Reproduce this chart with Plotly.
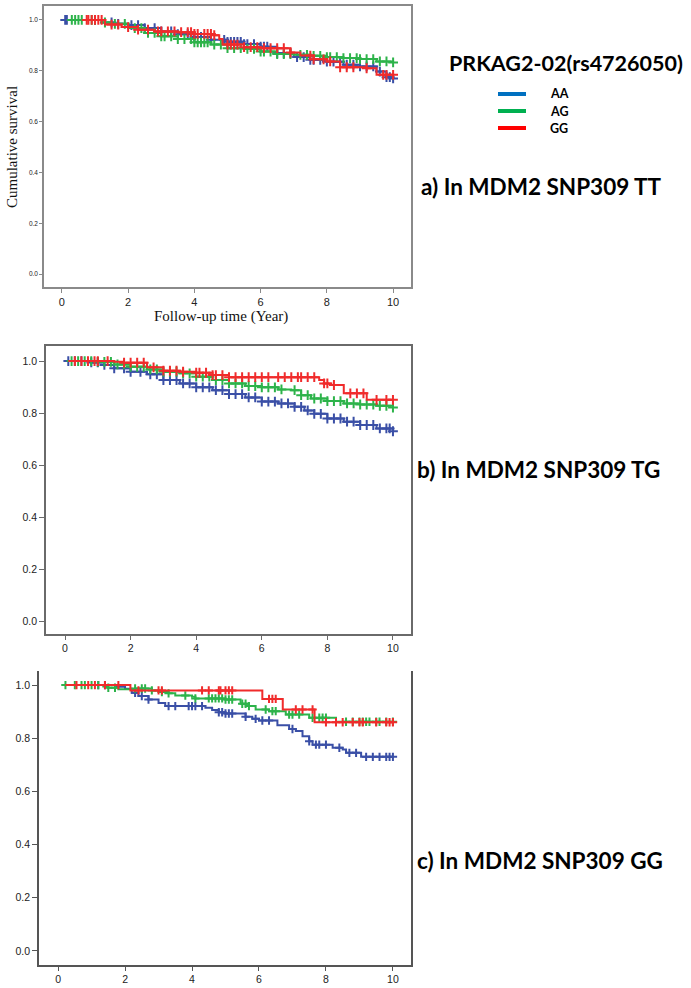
import numpy as np
import plotly.graph_objects as go

# ---------------- data ----------------
groups = ["AA", "AG", "GG"]

# Panel a) MDM2 SNP309 TT : step knots (time, survival) and censor times
a_AA_t = [0.1, 1.2, 1.6, 2.0, 2.5, 3.0, 3.5, 4.0, 4.5, 5.0, 5.5, 6.0, 6.5, 7.0, 7.5, 8.0, 8.5, 9.0, 9.5, 9.8, 10.0]
a_AA_s = [1.0, 0.99, 0.985, 0.98, 0.968, 0.955, 0.944, 0.933, 0.922, 0.914, 0.905, 0.895, 0.87, 0.854, 0.843, 0.836, 0.824, 0.817, 0.797, 0.775, 0.77]
a_AG_t = [0.3, 1.2, 1.5, 2.0, 2.5, 3.0, 3.5, 4.0, 4.5, 5.0, 5.5, 6.0, 6.5, 7.0, 7.5, 8.0, 8.5, 9.0, 9.5, 10.0]
a_AG_s = [1.0, 0.99, 0.985, 0.968, 0.949, 0.936, 0.925, 0.912, 0.903, 0.889, 0.886, 0.876, 0.866, 0.863, 0.859, 0.854, 0.85, 0.846, 0.837, 0.833]
a_GG_t = [0.72, 1.3, 1.8, 2.3, 2.8, 3.5, 4.0, 4.6, 4.75, 4.85, 5.5, 6.0, 6.9, 7.2, 7.6, 8.0, 8.4, 9.2, 9.5, 10.0]
a_GG_s = [1.0, 0.982, 0.972, 0.962, 0.955, 0.952, 0.945, 0.940, 0.925, 0.903, 0.893, 0.889, 0.872, 0.86, 0.845, 0.837, 0.814, 0.81, 0.784, 0.784]
a_AA_c = [0.1, 0.15, 1.0, 1.5, 1.7, 2.1, 2.3, 2.5, 2.8, 3.0, 3.3, 3.5, 3.8, 4.0, 4.2, 4.5, 4.9, 5.0, 5.1, 5.2, 5.3, 5.4, 5.5, 5.6, 5.8, 6.0, 6.1, 6.2, 6.5, 6.7, 6.9, 7.1, 7.3, 7.5, 7.6, 7.8, 8.0, 8.2, 8.4, 8.6, 8.8, 9.0, 9.2, 9.4, 9.6, 9.8, 9.9, 10.0]
a_AG_c = [0.3, 0.4, 0.5, 0.6, 0.9, 1.0, 1.3, 1.6, 1.9, 2.2, 2.4, 2.6, 2.8, 3.0, 3.1, 3.3, 3.5, 3.7, 3.9, 4.0, 4.1, 4.2, 4.3, 4.4, 4.6, 4.8, 5.0, 5.2, 5.4, 5.6, 5.8, 6.0, 6.1, 6.3, 6.5, 6.7, 6.9, 7.2, 7.4, 7.6, 7.8, 8.0, 8.1, 8.3, 8.5, 8.7, 8.9, 9.0, 9.2, 9.4, 9.6, 9.8, 10.0]
a_GG_c = [0.75, 0.8, 0.9, 1.0, 1.1, 1.2, 1.5, 1.7, 2.0, 2.3, 2.6, 2.9, 3.0, 3.2, 3.4, 3.6, 3.8, 3.9, 4.0, 4.1, 4.3, 4.4, 4.5, 4.6, 5.0, 5.1, 5.2, 5.3, 5.5, 5.7, 5.9, 6.1, 6.3, 6.5, 6.7, 6.9, 7.5, 7.6, 7.9, 8.1, 8.4, 8.6, 8.8, 9.2, 9.7, 9.8, 10.0]

# Panel b) MDM2 SNP309 TG
b_AA_t = [0.1, 0.8, 1.2, 1.5, 2.0, 2.5, 3.0, 3.5, 4.0, 4.5, 5.0, 5.5, 6.0, 6.5, 7.0, 7.3, 7.6, 8.0, 8.5, 9.0, 9.5, 10.0]
b_AA_s = [1.0, 0.995, 0.985, 0.972, 0.959, 0.949, 0.927, 0.914, 0.899, 0.888, 0.873, 0.86, 0.844, 0.837, 0.824, 0.81, 0.797, 0.779, 0.767, 0.754, 0.741, 0.73]
b_AG_t = [0.2, 1.0, 1.5, 2.0, 2.5, 3.0, 3.5, 4.0, 4.5, 5.0, 5.5, 6.0, 6.5, 6.9, 7.2, 7.5, 8.0, 8.5, 9.0, 9.5, 10.0]
b_AG_s = [1.0, 0.997, 0.987, 0.978, 0.968, 0.959, 0.953, 0.94, 0.927, 0.914, 0.904, 0.899, 0.891, 0.888, 0.869, 0.856, 0.846, 0.837, 0.833, 0.828, 0.821]
b_GG_t = [0.1, 1.5, 1.8, 2.5, 3.0, 3.5, 4.0, 4.5, 5.0, 7.75, 7.9, 8.1, 8.5, 9.2, 10.0]
b_GG_s = [1.0, 0.997, 0.994, 0.976, 0.963, 0.959, 0.955, 0.946, 0.938, 0.927, 0.914, 0.908, 0.876, 0.851, 0.851]
b_AA_c = [0.1, 0.3, 0.5, 0.8, 1.0, 1.2, 1.5, 1.8, 2.0, 2.3, 2.6, 2.8, 3.0, 3.2, 3.4, 3.6, 3.8, 4.0, 4.2, 4.4, 4.6, 4.8, 5.0, 5.2, 5.4, 5.6, 5.8, 6.0, 6.2, 6.4, 6.6, 6.8, 7.0, 7.2, 7.4, 7.6, 7.8, 8.0, 8.2, 8.4, 8.6, 8.8, 9.0, 9.2, 9.4, 9.6, 9.8, 9.9, 10.0]
b_AG_c = [0.2, 0.4, 0.6, 0.8, 1.0, 1.2, 1.4, 1.6, 1.8, 2.0, 2.2, 2.4, 2.6, 2.8, 3.0, 3.2, 3.4, 3.6, 3.8, 4.0, 4.2, 4.4, 4.6, 4.8, 5.0, 5.2, 5.4, 5.6, 5.8, 6.0, 6.2, 6.4, 6.6, 7.0, 7.2, 7.4, 7.6, 7.8, 8.0, 8.2, 8.4, 8.6, 8.8, 9.0, 9.2, 9.4, 9.6, 9.8, 10.0]
b_GG_c = [0.3, 0.5, 0.7, 0.9, 1.0, 1.3, 1.8, 2.0, 2.2, 2.4, 2.7, 3.0, 3.2, 3.4, 3.6, 4.0, 4.1, 4.3, 4.5, 4.6, 4.8, 5.0, 5.2, 5.4, 5.6, 5.8, 6.0, 6.2, 6.5, 6.7, 6.9, 7.1, 7.2, 7.4, 7.6, 7.9, 8.0, 8.2, 8.7, 8.9, 9.1, 9.5, 9.8, 10.0]

# Panel c) MDM2 SNP309 GG
c_AA_t = [1.2, 1.7, 2.0, 2.2, 2.4, 2.7, 3.0, 3.2, 4.4, 4.6, 4.8, 5.0, 5.6, 5.8, 6.0, 6.55, 6.9, 7.1, 7.3, 7.5, 7.6, 8.2, 8.5, 8.6, 9.05, 10.0]
c_AA_s = [1.0, 0.994, 0.986, 0.971, 0.959, 0.946, 0.933, 0.921, 0.915, 0.906, 0.898, 0.893, 0.881, 0.873, 0.867, 0.849, 0.835, 0.827, 0.808, 0.789, 0.776, 0.764, 0.758, 0.745, 0.73, 0.73]
c_AG_t = [0.22, 1.35, 1.5, 1.8, 2.3, 2.8, 3.0, 3.3, 3.5, 4.0, 4.1, 5.0, 5.45, 5.7, 5.9, 6.3, 6.8, 7.5, 8.3, 10.0]
c_AG_s = [1.0, 0.995, 0.99, 0.984, 0.987, 0.98, 0.974, 0.969, 0.961, 0.956, 0.95, 0.946, 0.93, 0.921, 0.908, 0.902, 0.889, 0.877, 0.862, 0.862]
c_GG_t = [0.22, 2.16, 6.1, 6.71, 7.66, 10.0]
c_GG_s = [1.0, 0.98, 0.948, 0.908, 0.86, 0.86]
c_AA_c = [1.2, 1.4, 2.3, 2.5, 2.7, 3.3, 3.5, 3.9, 4.0, 4.1, 4.3, 4.8, 4.9, 5.0, 5.1, 5.2, 5.6, 5.9, 6.1, 6.3, 7.0, 7.5, 7.7, 7.8, 8.0, 8.4, 8.7, 8.9, 9.2, 9.4, 9.6, 9.8, 9.9, 10.0]
c_AG_c = [0.22, 0.5, 0.7, 0.8, 1.0, 1.2, 1.5, 1.7, 2.3, 2.5, 2.6, 2.8, 3.1, 3.3, 3.8, 4.1, 4.5, 4.6, 4.7, 4.8, 4.9, 5.0, 5.1, 5.2, 5.5, 5.6, 5.7, 6.2, 6.4, 6.5, 6.9, 7.0, 7.2, 7.6, 7.8, 7.9, 8.0, 8.6, 8.8, 9.0, 9.1, 9.2, 9.3, 9.5, 9.6, 9.8, 10.0]
c_GG_c = [0.55, 0.9, 1.1, 1.4, 1.8, 2.4, 3.0, 3.1, 4.3, 4.5, 4.8, 4.85, 5.0, 5.1, 5.2, 6.3, 6.4, 6.5, 7.1, 7.3, 7.6, 8.0, 8.3, 8.5, 8.8, 9.0, 9.1, 9.5, 9.8, 9.9, 10.0]

x_ticks = [0, 2, 4, 6, 8, 10]
y_ticks = [0.0, 0.2, 0.4, 0.6, 0.8, 1.0]

panel_labels = ["a) In MDM2 SNP309 TT", "b) In MDM2 SNP309 TG", "c) In MDM2 SNP309 GG"]
legend_title = "PRKAG2-02(rs4726050)"
x_title = "Follow-up time (Year)"
y_title = "Cumulative survival"

# ---------------- styling ----------------
W, H = 691, 988
curve_col = {"AA": "#3a4fa6", "AG": "#2db34a", "GG": "#f02b2b"}
legend_col = {"AA": "#0070c0", "AG": "#00b050", "GG": "#ff0000"}

panels = [
    dict(data={"AA": (a_AA_t, a_AA_s, a_AA_c), "AG": (a_AG_t, a_AG_s, a_AG_c), "GG": (a_GG_t, a_GG_s, a_GG_c)},
         px=(44, 411), py=(6, 287), xr=[-0.54, 10.54], yr=[-0.051, 1.055],
         linecol="#8a8a8a", xfont=11, yfont=6.5, yticklen=3, boxed=True, msize=7),
    dict(data={"AA": (b_AA_t, b_AA_s, b_AA_c), "AG": (b_AG_t, b_AG_s, b_AG_c), "GG": (b_GG_t, b_GG_s, b_GG_c)},
         px=(46, 411), py=(346, 634), xr=[-0.58, 10.55], yr=[-0.05, 1.058],
         linecol="#6a6a6a", xfont=10.5, yfont=10.5, yticklen=5, boxed=True, msize=7),
    dict(data={"AA": (c_AA_t, c_AA_s, c_AA_c), "AG": (c_AG_t, c_AG_s, c_AG_c), "GG": (c_GG_t, c_GG_s, c_GG_c)},
         px=(39, 411), py=(671, 965), xr=[-0.57, 10.54], yr=[-0.053, 1.053],
         linecol="#555555", xfont=10.5, yfont=10.5, yticklen=5, boxed=False, msize=6),
]


def surv_at(tk, sk, tc):
    tk = np.asarray(tk)
    sk = np.asarray(sk)
    idx = np.searchsorted(tk, np.asarray(tc), side="right") - 1
    idx = np.clip(idx, 0, len(sk) - 1)
    return sk[idx]


fig = go.Figure()
layout = {}
for i, p in enumerate(panels):
    n = "" if i == 0 else str(i + 1)
    xa, ya = "x" + n, "y" + n
    for g in groups:
        tk, sk, tc = p["data"][g]
        fig.add_trace(go.Scatter(x=tk, y=sk, mode="lines", line=dict(color=curve_col[g], width=2, shape="hv"),
                                 xaxis=xa, yaxis=ya, showlegend=False, hoverinfo="skip"))
        fig.add_trace(go.Scatter(x=tc, y=surv_at(tk, sk, tc), mode="markers",
                                 marker=dict(symbol="cross-thin", size=p["msize"],
                                             line=dict(color=curve_col[g], width=2)),
                                 xaxis=xa, yaxis=ya, showlegend=False, hoverinfo="skip"))
    x0, x1 = p["px"]
    y0, y1 = p["py"]
    layout["xaxis" + n] = dict(
        domain=[x0 / W, x1 / W], anchor=ya, range=p["xr"], tickvals=x_ticks,
        ticks="outside", ticklen=4, tickcolor=p["linecol"], showline=True, linecolor=p["linecol"], linewidth=1.5,
        mirror=p["boxed"], showgrid=False, zeroline=False,
        tickfont=dict(family="Liberation Sans, Arial", size=p["xfont"], color="#222"))
    layout["yaxis" + n] = dict(
        domain=[1 - y1 / H, 1 - y0 / H], anchor=xa, range=p["yr"], tickvals=y_ticks, tickformat=".1f",
        ticks="outside", ticklen=p["yticklen"], tickcolor=p["linecol"], showline=True, linecolor=p["linecol"],
        linewidth=1.5, mirror=True, showgrid=False, zeroline=False,
        tickfont=dict(family="Liberation Sans, Arial", size=p["yfont"], color="#222"))

annotations = [
    dict(text=y_title, x=12 / W, y=1 - 147 / H, xref="paper", yref="paper", textangle=-90, showarrow=False,
         font=dict(family="Liberation Serif, Times New Roman", size=15, color="#111"), xanchor="center", yanchor="middle"),
    dict(text=x_title, x=221 / W, y=1 - 316 / H, xref="paper", yref="paper", showarrow=False,
         font=dict(family="Liberation Serif, Times New Roman", size=15, color="#111"), xanchor="center", yanchor="middle"),
    dict(text="<b>" + legend_title + "</b>", x=566 / W, y=1 - 63 / H, xref="paper", yref="paper", showarrow=False,
         font=dict(family="Lato", size=21.5, color="#000"), xanchor="center", yanchor="middle"),
]
label_pos = [(419, 186), (415, 469), (415, 860)]
for lab, (lx, ly) in zip(panel_labels, label_pos):
    annotations.append(dict(text="<b>" + lab + "</b>", x=lx / W, y=1 - ly / H, xref="paper", yref="paper",
                            showarrow=False, font=dict(family="Lato", size=22.5, color="#000"),
                            xanchor="left", yanchor="middle"))

shapes = []
leg_y = [94, 111, 128]
for g, ly in zip(groups, leg_y):
    shapes.append(dict(type="line", xref="paper", yref="paper", x0=498 / W, x1=526 / W, y0=1 - ly / H, y1=1 - ly / H,
                       line=dict(color=legend_col[g], width=4)))
    annotations.append(dict(text="<b>" + g + "</b>", x=548 / W, y=1 - ly / H, xref="paper", yref="paper",
                            showarrow=False, font=dict(family="Lato", size=12.5, color="#000"),
                            xanchor="left", yanchor="middle"))

fig.update_layout(width=W, height=H, margin=dict(l=0, r=0, t=0, b=0), paper_bgcolor="white", plot_bgcolor="white",
                  annotations=annotations, shapes=shapes, showlegend=False, **layout)
fig.write_html("out.html", config={"displayModeBar": False},
               post_script="document.body.style.margin='0';document.body.style.padding='0';"
                           "document.documentElement.style.margin='0';")
